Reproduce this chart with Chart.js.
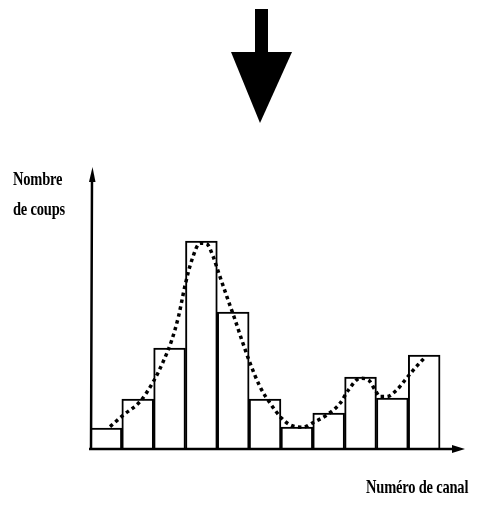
<!DOCTYPE html>
<html>
<head>
<meta charset="utf-8">
<script src="https://cdn.jsdelivr.net/npm/chart.js@4.4.1/dist/chart.umd.min.js"></script>
<style>
  html, body { margin: 0; padding: 0; background: #fff; }
  #wrap { position: relative; width: 480px; height: 507px; overflow: hidden; }
  canvas { position: absolute; left: 0; top: 0; }
  .lbl {
    position: absolute; font-family: "Liberation Serif", "Times New Roman", serif;
    font-weight: bold; font-size: 14.5px; line-height: 14px; color: #000;
    white-space: nowrap; transform: scaleY(1.35); transform-origin: 0 0;
    letter-spacing: -0.2px;
  }
</style>
</head>
<body>
<div id="wrap">
  <canvas id="c" width="480" height="507"></canvas>
  <div class="lbl" style="left:13px; top:169px;">Nombre</div>
  <div class="lbl" style="left:13px; top:199px;">de coups</div>
  <div class="lbl" style="left:366px; top:477px;">Numéro de canal</div>
</div>
<script>
// Channel numbers (bar centres, in channel units) and counts per channel
const channels = [0.5, 1.5, 2.5, 3.5, 4.5, 5.5, 6.5, 7.5, 8.5, 9.5, 10.5];
const counts   = [10.5, 25, 50.5, 104, 68.5, 25, 11, 18, 36, 25.5, 47];

// Fitted (dotted) curve
const curveX = [0.63, 1.05, 1.57, 1.99, 2.30, 2.57, 2.78, 2.99, 3.20, 3.46, 3.67, 3.87, 4.03, 4.30, 4.56, 4.77, 5.03, 5.34, 5.66, 6.02, 6.29, 6.70, 6.97, 7.44, 7.86, 8.12, 8.49, 8.75, 8.96, 9.11, 9.32, 9.64, 9.90, 10.21, 10.53];
const curveY = [11.2, 17, 23.7, 33.7, 43.7, 54.5, 66.2, 82, 94.5, 102.9, 102.5, 96.2, 88.7, 76.2, 64.5, 54.5, 42.9, 31.2, 22.9, 15.4, 12, 10.9, 12.9, 17, 22.9, 29.5, 35.4, 34.5, 29.5, 26.2, 26.2, 29.5, 34.5, 40.4, 45.9];

const xMax = 11.72;
const yMax = 141;

const decor = {
  id: 'decor',
  afterDraw(chart) {
    const ctx = chart.ctx;
    const xs = chart.scales.x, ys = chart.scales.y;
    const x0 = xs.getPixelForValue(0) + 1, y0 = ys.getPixelForValue(0);
    const xEnd = xs.getPixelForValue(xMax) + 2, yTop = ys.getPixelForValue(yMax);
    ctx.save();
    ctx.fillStyle = '#000'; ctx.strokeStyle = '#000';
    // axes
    ctx.lineWidth = 2.5;
    ctx.beginPath();
    ctx.moveTo(x0 - 2, y0); ctx.lineTo(xEnd - 8, y0);
    ctx.moveTo(x0, y0); ctx.lineTo(x0 + 1, yTop + 10);
    ctx.stroke();
    // y arrow head
    ctx.beginPath();
    ctx.moveTo(x0 + 1.5, yTop); ctx.lineTo(x0 - 2, yTop + 15); ctx.lineTo(x0 + 4.5, yTop + 15); ctx.closePath(); ctx.fill();
    // x arrow head
    ctx.beginPath();
    ctx.moveTo(xEnd, y0); ctx.lineTo(xEnd - 13, y0 - 4); ctx.lineTo(xEnd - 13, y0 + 4); ctx.closePath(); ctx.fill();
    // big downward arrow at the top
    ctx.fillRect(255, 9, 13, 44);
    ctx.beginPath();
    ctx.moveTo(231, 52); ctx.lineTo(292, 52); ctx.lineTo(260, 123); ctx.closePath(); ctx.fill();
    ctx.restore();
  }
};

new Chart(document.getElementById('c'), {
  data: {
    datasets: [
      {
        type: 'bar',
        data: channels.map((x, i) => ({ x: x, y: counts[i] })),
        backgroundColor: '#fff',
        borderColor: '#000',
        borderWidth: 2,
        barPercentage: 1,
        categoryPercentage: 1,
        order: 2
      },
      {
        type: 'line',
        data: curveX.map((x, i) => ({ x: x, y: curveY[i] })),
        borderColor: '#000',
        borderWidth: 3.5,
        borderDash: [3.5, 3.5],
        borderCapStyle: 'butt',
        cubicInterpolationMode: 'monotone',
        pointRadius: 0,
        fill: false,
        order: 1
      }
    ]
  },
  plugins: [decor],
  options: {
    responsive: false,
    animation: false,
    layout: { padding: { left: 90, right: 17, top: 167, bottom: 58 } },
    plugins: { legend: { display: false }, tooltip: { enabled: false }, title: { display: false } },
    scales: {
      x: { type: 'linear', min: 0, max: xMax, display: false, offset: false },
      y: { type: 'linear', min: 0, max: yMax, display: false }
    }
  }
});
</script>
</body>
</html>
